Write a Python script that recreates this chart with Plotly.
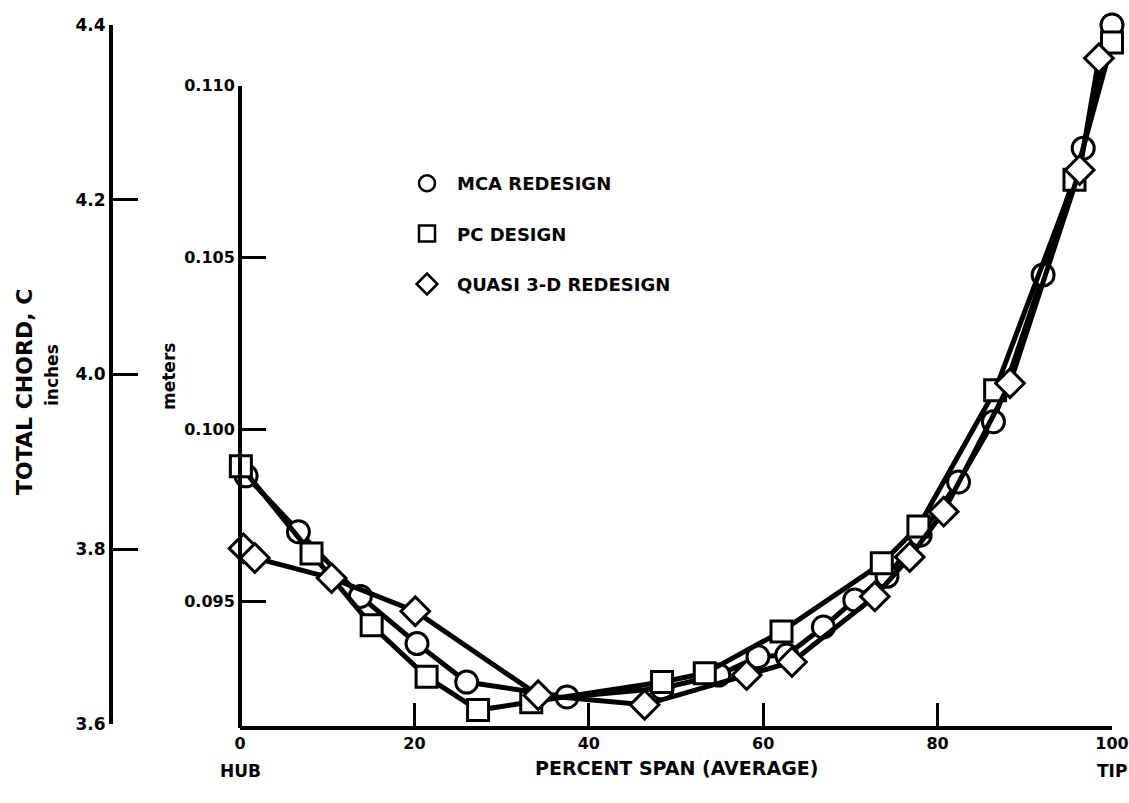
import plotly.graph_objects as go

# ---------------- data ----------------
SERIES_NAMES = ["MCA REDESIGN", "PC DESIGN", "QUASI 3-D REDESIGN"]

SPAN_MCA = [0.7, 6.7, 13.8, 20.3, 26.0, 37.5, 48.4, 54.9, 59.4, 62.7, 66.9,
            70.5, 74.2, 78.0, 82.4, 86.4, 92.1, 96.7, 100.0]
CHORD_MCA = [3.884, 3.820, 3.746, 3.692, 3.648, 3.631, 3.641, 3.656, 3.677,
             3.679, 3.711, 3.742, 3.769, 3.816, 3.877, 3.946, 4.114, 4.259, 4.400]

SPAN_PC = [0.1, 8.2, 15.1, 21.4, 27.3, 33.4, 48.4, 53.3, 62.1, 73.6, 77.8,
           86.6, 95.7, 100.0]
CHORD_PC = [3.895, 3.795, 3.713, 3.654, 3.616, 3.625, 3.648, 3.658, 3.706,
            3.784, 3.826, 3.982, 4.223, 4.380]

SPAN_Q3D = [0.4, 1.7, 10.5, 20.1, 34.2, 46.4, 58.1, 63.3, 72.8, 76.8, 80.7,
            88.3, 96.3, 98.5]
CHORD_Q3D = [3.801, 3.790, 3.767, 3.729, 3.633, 3.622, 3.656, 3.671, 3.746,
             3.791, 3.843, 3.990, 4.234, 4.362]

X_TICKS = [0, 20, 40, 60, 80, 100]
X_END_LABELS = ["HUB", "TIP"]
IN_TICKS = [3.6, 3.8, 4.0, 4.2, 4.4]
M_TICKS = [0.095, 0.100, 0.105, 0.110]
M_PER_IN = 0.0254

X_TITLE = "PERCENT SPAN (AVERAGE)"
Y_TITLE = "TOTAL CHORD, C"
IN_UNIT = "inches"
M_UNIT = "meters"

# ---------------- layout constants (pixels in the final picture) ----------------
W, H = 1129, 803
OFF = 0            # page body margin is removed by the post script below
X_LEFT, X_RIGHT = 240, 1112
X_LINE_Y = 728
IN_AXIS_X = 111
IN_TOP_Y, IN_BOT_Y = 25, 724
IN_LO, IN_HI = 3.6, 4.4
M_AXIS_X = 240
FONT = "DejaVu Sans"


def fx(x):
    return (x - OFF) / W


def fy(y):
    return 1 - (y - OFF) / H


px_per_in = (IN_BOT_Y - IN_TOP_Y) / (IN_HI - IN_LO)
m_top_y = IN_BOT_Y - (M_TICKS[-1] / M_PER_IN - IN_LO) * px_per_in
m_lo = (IN_LO - (X_LINE_Y - IN_BOT_Y) / px_per_in) * M_PER_IN

fig = go.Figure()

styles = [
    dict(symbol="circle", size=22),
    dict(symbol="square", size=21),
    dict(symbol="diamond", size=22),
]
data = [(SPAN_MCA, CHORD_MCA), (SPAN_PC, CHORD_PC), (SPAN_Q3D, CHORD_Q3D)]

for name, (xs, ys), st in zip(SERIES_NAMES, data, styles):
    fig.add_trace(go.Scatter(
        x=xs, y=ys, mode="lines+markers", name=name, showlegend=False,
        line=dict(color="black", width=5),
        marker=dict(symbol=st["symbol"], size=st["size"], color="white",
                    line=dict(color="black", width=3)),
        cliponaxis=False, xaxis="x", yaxis="y",
    ))

# legend entries (markers only)
for i, (name, st) in enumerate(zip(SERIES_NAMES, styles)):
    fig.add_trace(go.Scatter(
        x=[None], y=[None], mode="markers", name=name, legendgroup=f"g{i}",
        marker=dict(symbol=st["symbol"], size=st["size"], color="white",
                    line=dict(color="black", width=2.5)),
        xaxis="x", yaxis="y",
    ))

# empty trace so that the metric axis is laid out
fig.add_trace(go.Scatter(x=[], y=[], xaxis="x", yaxis="y2", showlegend=False,
                         hoverinfo="skip"))

axis_common = dict(showgrid=False, zeroline=False, showline=True,
                   automargin=False, linecolor="black", ticks="inside",
                   tickcolor="black")
tick_font = dict(family=FONT, color="black", weight="bold")

fig.update_layout(
    template="none",
    width=W, height=H,
    margin=dict(l=0, r=0, t=0, b=0, autoexpand=False),
    paper_bgcolor="white", plot_bgcolor="rgba(0,0,0,0)",
    font=dict(family=FONT, color="black"),
    showlegend=True,
    legend=dict(x=fx(397), y=fy(165), xanchor="left", yanchor="top",
                bgcolor="rgba(0,0,0,0)", borderwidth=0, tracegroupgap=24,
                itemwidth=50,
                font=dict(family=FONT, size=18, color="black", weight="bold"),
                itemsizing="trace"),
    xaxis=dict(**axis_common, domain=[fx(X_LEFT), fx(X_RIGHT)], range=[0, 100],
               anchor="free", position=fy(X_LINE_Y), linewidth=4,
               tickvals=X_TICKS, ticktext=[str(v) for v in X_TICKS],
               tickfont=dict(**tick_font, size=16),
               ticklen=23, tickwidth=3),
    yaxis=dict(**axis_common, domain=[fy(IN_BOT_Y), fy(IN_TOP_Y)],
               range=[IN_LO, IN_HI], anchor="free", position=fx(IN_AXIS_X),
               linewidth=4, tickvals=IN_TICKS,
               tickfont=dict(**tick_font, size=17),
               ticktext=[f"{v:.1f}" for v in IN_TICKS], ticklen=25, tickwidth=3),
    yaxis2=dict(**axis_common, domain=[fy(X_LINE_Y), fy(m_top_y)],
                range=[m_lo, M_TICKS[-1]], anchor="free", position=fx(M_AXIS_X),
                linewidth=4, tickvals=M_TICKS,
                tickfont=dict(**tick_font, size=16),
                ticktext=[f"{v:.3f}" for v in M_TICKS], ticklen=24, tickwidth=3),
)

bold = dict(family=FONT, color="black", weight="bold")
common_ann = dict(showarrow=False, xanchor="center", yanchor="middle")
ann = [
    dict(text=Y_TITLE, x=fx(25), y=fy(392), xref="paper", yref="paper",
         textangle=-90, font=dict(**bold, size=22), **common_ann),
    dict(text=IN_UNIT, x=fx(52), y=fy(375), xref="paper", yref="paper",
         textangle=-90, font=dict(**bold, size=17), **common_ann),
    dict(text=M_UNIT, x=fx(169), y=fy(377), xref="paper", yref="paper",
         textangle=-90, font=dict(**bold, size=17), **common_ann),
    dict(text=X_TITLE, x=50, y=fy(768), xref="x", yref="paper",
         font=dict(**bold, size=19), **common_ann),
    dict(text=X_END_LABELS[0], x=X_TICKS[0], y=fy(771), xref="x", yref="paper",
         font=dict(**bold, size=17), **common_ann),
    dict(text=X_END_LABELS[1], x=X_TICKS[-1], y=fy(771), xref="x", yref="paper",
         font=dict(**bold, size=17), **common_ann),
]
fig.update_layout(annotations=ann)

fig.write_html(
    "out.html",
    config={"displayModeBar": False, "staticPlot": True},
    post_script="document.body.style.margin='0';document.body.style.overflow='hidden';",
)
